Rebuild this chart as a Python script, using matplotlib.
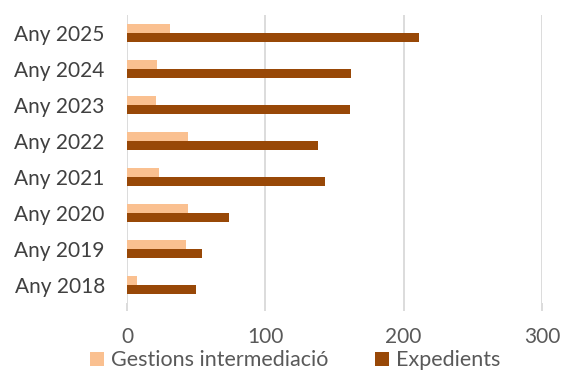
import matplotlib
matplotlib.use("Agg")
import matplotlib.pyplot as plt
import numpy as np

categories = ["Any 2018", "Any 2019", "Any 2020", "Any 2021", "Any 2022", "Any 2023", "Any 2024", "Any 2025"]
gestions = [7, 43, 44, 23, 44, 21, 22, 31]
expedients = [50, 54, 74, 143, 138, 161, 162, 211]
series_names = ["Gestions intermediació", "Expedients"]
xticks = [0, 100, 200, 300]

plt.rcParams['font.family'] = ['Lato', 'DejaVu Sans']

fig = plt.figure(figsize=(5.63, 3.72), dpi=100)
ax = fig.add_axes([0.2256, 0.1855, 0.7371, 0.7742])

y = np.arange(len(categories))
h = 0.25
light = "#FAC090"
dark = "#984807"
ax.barh(y + h/2, gestions, height=h, color=light, label=series_names[0], zorder=3)
ax.barh(y - h/2, expedients, height=h, color=dark, label=series_names[1], zorder=3)

ax.set_xlim(0, 300)
ax.set_ylim(-0.5, len(categories) - 0.5)
ax.set_xticks(xticks)
ax.set_yticks(y)
ax.set_yticklabels(categories)
ax.grid(axis='x', color='#D9D9D9', linewidth=1.3, zorder=0)
for s in ax.spines.values():
    s.set_visible(False)
ax.tick_params(axis='y', length=0, labelsize=15, labelcolor='#404040', pad=16)
ax.tick_params(axis='x', length=6, width=1.3, color='#D9D9D9', labelsize=15, labelcolor='#595959', pad=11)

leg = ax.legend(loc='upper center', bbox_to_anchor=(0.405, -0.135), ncol=2, frameon=False,
                fontsize=15.5, handlelength=0.65, handleheight=0.65, handletextpad=0.3,
                columnspacing=2.2, borderaxespad=0)
for t in leg.get_texts():
    t.set_color('#595959')

fig.savefig("out.png", dpi=100)
